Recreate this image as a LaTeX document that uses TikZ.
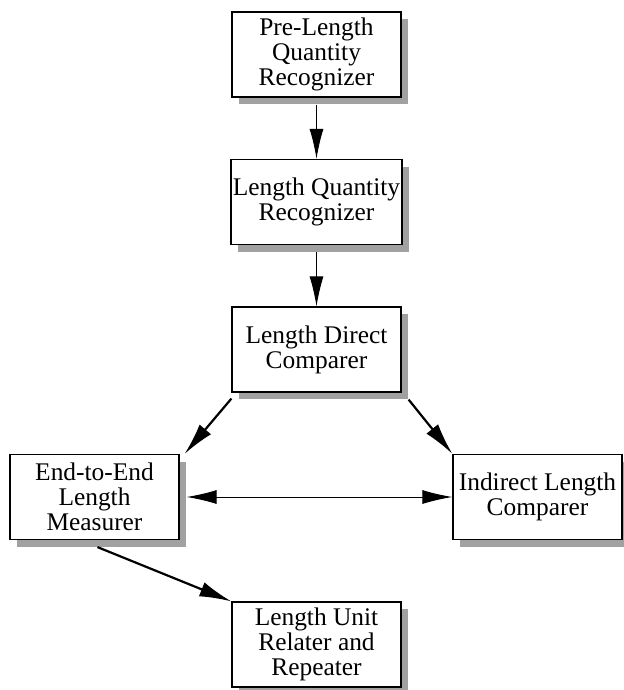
\documentclass[tikz,border=0pt]{standalone}
\usepackage{fontspec}
\setmainfont{Liberation Serif}
\usetikzlibrary{arrows.meta,shadows}

\begin{document}
\begin{tikzpicture}[x=0.5pt, y=-0.5pt,
	main/.style = {draw, fill=white, line width=0.6pt, minimum width=84.5pt, minimum height=42.5pt, align=center, inner sep=1pt, font=\fontsize{12.7}{12.5}\selectfont, drop shadow={shadow xshift=3.5pt, shadow yshift=-3.5pt, fill=black!37, opacity=1}},
	thin/.style = {line width=0.5pt, -{Latex[length=15pt, width=7pt]}},
	thick/.style = {line width=1.1pt, -{Latex[length=16pt, width=7.5pt]}}]
		\useasboundingbox (0,0) rectangle (624,690);
		\node[main] (1) at (316.5,54.5) {Pre-Length\\Quantity\\Recognizer};
		\node[main] (2) at (316.5,202) {Length Quantity\\Recognizer};
		\node[main] (3) at (316.5,349.5) {Length Direct\\Comparer};
		\node[main] (4) at (94.5,497) {End-to-End\\Length\\Measurer};
		\node[main] (5) at (537.5,497) {Indirect Length\\Comparer};
		\node[main] (6) at (316.5,644.5) {Length Unit\\Relater and\\Repeater};
		\draw[thin] ([yshift=-3.5pt]1.south) -- (2.north);
		\draw[thin] ([yshift=-3.5pt]2.south) -- (3.north);
		\draw[thick] ([yshift=-3pt]3.south west) -- ([xshift=2.5pt]4.north east);
		\draw[thick] ([xshift=3.5pt, yshift=-3.5pt]3.south east) -- (5.north west);
		\draw[line width=0.5pt, {Latex[length=15pt, width=7pt]}-{Latex[length=15pt, width=7pt]}] ([xshift=3.5pt]4.east) -- (5.west);
		\draw[thick] ([xshift=1.5pt, yshift=-3.5pt]4.south) -- (6.north west);
	\end{tikzpicture}
\end{document}
